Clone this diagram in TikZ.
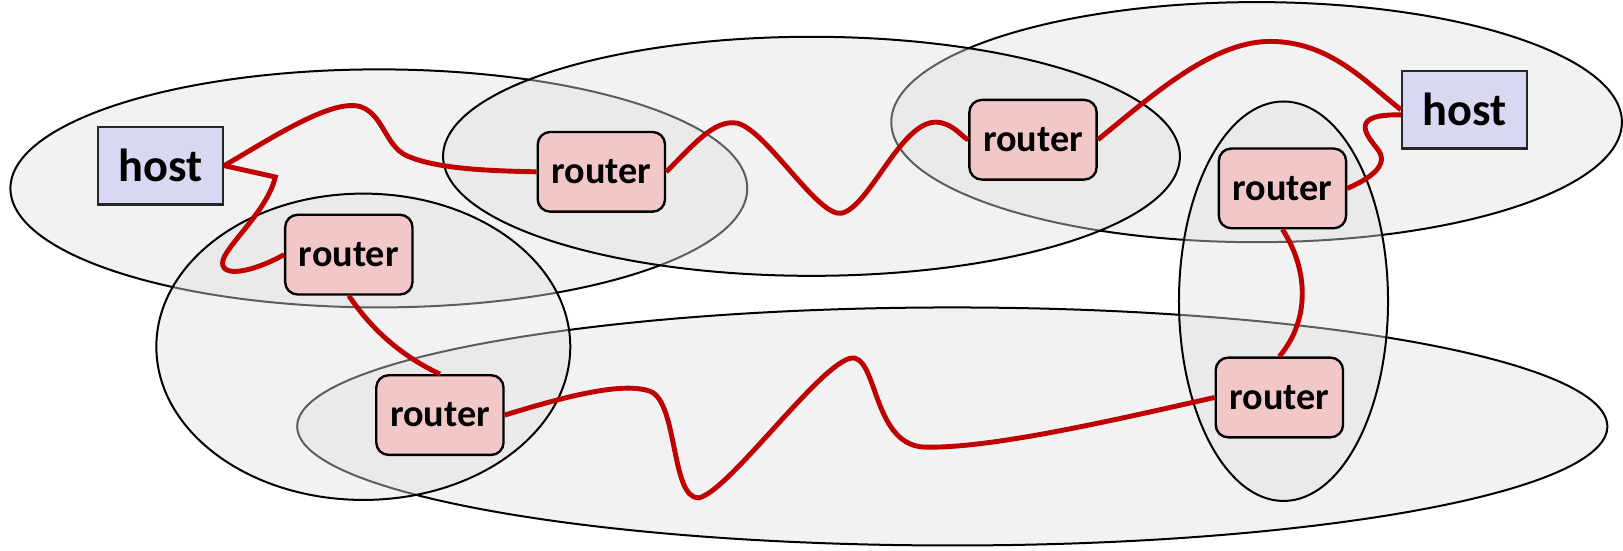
\documentclass[tikz,border=0pt]{standalone}
\usepackage{fontspec}
\newfontfamily\calib{Carlito}
\definecolor{wirered}{RGB}{192,0,0}
\definecolor{hostfill}{RGB}{216,216,243}
\definecolor{routerfill}{RGB}{242,199,200}
\tikzset{
  ell/.style={draw=black, line width=1.1pt, fill=black!12, fill opacity=0.42},
  hostbox/.style={draw=black!85, line width=1.2pt, fill=hostfill, minimum width=2.42cm, minimum height=1.5cm, inner sep=0pt, font=\calib\bfseries\fontsize{25.5}{30}\selectfont},
  routerbox/.style={draw=black, line width=1.3pt, fill=routerfill, rounded corners=0.24cm, minimum width=2.46cm, minimum height=1.54cm, inner sep=0pt, font=\calib\bfseries\fontsize{21}{24}\selectfont},
  wire/.style={draw=wirered, line width=2.7pt}
}
\begin{document}
\begin{tikzpicture}[x=0.02cm, y=-0.02cm]
\useasboundingbox (0,0) rectangle (1568,532);
% ellipses (networks)
\path[ell] (366,182) ellipse [x radius=7.12cm, y radius=2.3cm];
\path[ell] (1214,118) ellipse [x radius=7.06cm, y radius=2.32cm];
\path[ell] (920,412) ellipse [x radius=12.66cm, y radius=2.3cm];
\path[ell] (351,335) ellipse [x radius=4.0cm, y radius=2.96cm];
\path[ell] (1240,291) ellipse [x radius=2.02cm, y radius=3.86cm];
\path[ell] (784,151) ellipse [x radius=7.12cm, y radius=2.31cm];
% nodes
\node[hostbox] (h1) at (155,160) {host};
\node[hostbox] (h2) at (1415,106) {host};
\node[routerbox] (rA) at (337,246) {router};
\node[routerbox] (rB) at (581,166) {router};
\node[routerbox] (rC) at (998,135) {router};
\node[routerbox] (rD) at (1239,182) {router};
\node[routerbox] (rE) at (425,401) {router};
\node[routerbox] (rF) at (1236,384) {router};
% wires
\draw[wire] (h1.east) .. controls (260,135) and (320,95) .. (348,103)
  .. controls (370,110) and (372,140) .. (392,150)
  .. controls (420,163) and (470,165) .. (rB.west);
\draw[wire] (h1.east) -- (266,171) .. controls (258,205) and (215,240) .. (215,254)
  .. controls (215,270) and (250,260) .. (rA.west);
\draw[wire] (rA.south) .. controls (360,320) and (390,345) .. (rE.north);
\draw[wire] (rE.east) .. controls (540,385) and (600,368) .. (628,378)
  .. controls (655,388) and (648,482) .. (675,481)
  .. controls (705,475) and (800,340) .. (826,346)
  .. controls (848,352) and (845,432) .. (895,432)
  .. controls (960,433) and (1080,405) .. (rF.west);
\draw[wire] (rF.north) .. controls (1265,310) and (1265,262) .. (rD.south);
\draw[wire] (rD.east) .. controls (1320,174) and (1345,160) .. (1330,143)
  .. controls (1318,128) and (1305,110) .. ([yshift=-0.1cm]h2.west);
\draw[wire] (rC.east) .. controls (1110,95) and (1170,40) .. (1227,40)
  .. controls (1285,40) and (1320,80) .. (h2.west);
\draw[wire] (rB.east) .. controls (670,140) and (690,115) .. (712,119)
  .. controls (740,125) and (790,210) .. (813,206)
  .. controls (840,200) and (870,118) .. (904,118)
  .. controls (920,118) and (930,133) .. (rC.west);
\end{tikzpicture}
\end{document}
